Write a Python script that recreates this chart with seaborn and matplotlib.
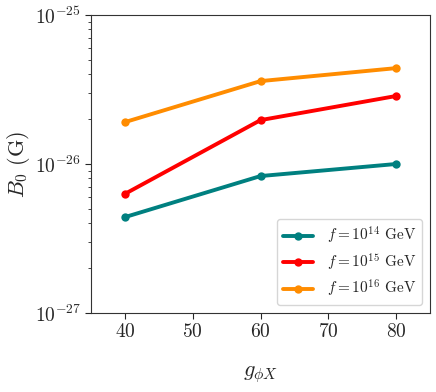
import matplotlib
matplotlib.use("Agg")
import matplotlib.pyplot as plt
import matplotlib.ticker as mticker
import seaborn as sns
import pandas as pd

g_vals = [40, 60, 80]
B_f14 = [4.4e-27, 8.3e-27, 1.0e-26]
B_f15 = [6.3e-27, 1.97e-26, 2.86e-26]
B_f16 = [1.91e-26, 3.6e-26, 4.4e-26]
labels = [r"$f=10^{14}$ GeV", r"$f=10^{15}$ GeV", r"$f=10^{16}$ GeV"]
colors = ["#008080", "#ff0000", "#ff8c00"]

sns.set_style("ticks")
plt.rcParams["mathtext.fontset"] = "cm"
plt.rcParams["font.family"] = ["cmr10", "DejaVu Serif"]
plt.rcParams["axes.formatter.use_mathtext"] = True

rows = []
for lab, ys in zip(labels, [B_f14, B_f15, B_f16]):
    for x, y in zip(g_vals, ys):
        rows.append({"g": x, "B": y, "f": lab})
df = pd.DataFrame(rows)

fig = plt.figure(figsize=(4.36, 3.92), dpi=100)
ax = fig.add_axes([91/436, 1 - 313/392, (430-91)/436, (313-15)/392])
sns.lineplot(data=df, x="g", y="B", hue="f", palette=colors, marker="o",
             markersize=6, markeredgewidth=0, linewidth=2.8, ax=ax)
ax.set_yscale("log")
ax.set_ylim(1e-27, 1e-25)
ax.set_xlim(35, 85)
ax.set_xticks([40, 50, 60, 70, 80])
ax.xaxis.set_major_formatter(mticker.FuncFormatter(lambda v, p: r"$%d$" % v))
ax.tick_params(axis="both", which="major", labelsize=14, length=4, pad=3)
ax.tick_params(axis="y", which="minor", length=2)
ax.set_xlabel(r"$g_{\phi X}$", fontsize=16)
ax.set_ylabel(r"$B_0\ (\mathrm{G})$", fontsize=16)
ax.yaxis.set_label_coords(-0.175, 0.5)
ax.xaxis.set_label_coords(0.5, -0.17)
for s in ax.spines.values():
    s.set_color("#333333")
leg = ax.legend(loc="lower right", fontsize=11, frameon=True, handlelength=2.0,
                borderpad=0.4, labelspacing=0.35, handletextpad=0.9)
for t in leg.get_texts():
    t.set_fontfamily(["cmr10", "DejaVu Serif"])
fig.savefig("out.png", dpi=100)
